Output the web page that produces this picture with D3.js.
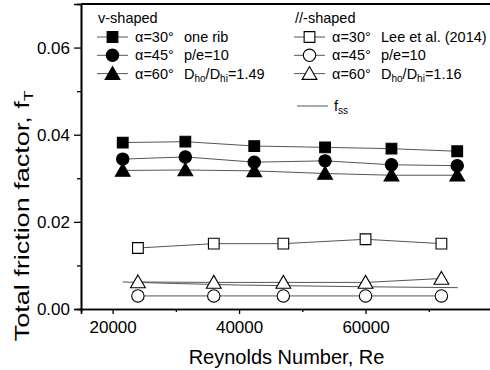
<!DOCTYPE html>
<html>
<head>
<meta charset="utf-8">
<script src="https://cdn.jsdelivr.net/npm/d3@7"></script>
<style>
  body { margin: 0; background: #fff; }
  svg { font-family: "Liberation Sans", Arial, sans-serif; }
</style>
</head>
<body>
<div id="chart"></div>
<script>
// v-shaped ribs (filled markers)
const reV = [21600, 31500, 42400, 53600, 64100, 74500];
const v30 = [0.0382, 0.0384, 0.0374, 0.0371, 0.0368, 0.0362];
const v45 = [0.0344, 0.0349, 0.0337, 0.0340, 0.0331, 0.0329];
const v60 = [0.0318, 0.0319, 0.0317, 0.0311, 0.0307, 0.0307];

// //-shaped ribs, Lee et al. (2014) (open markers)
const reP = [24000, 36000, 47000, 60000, 72000];
const p30 = [0.0140, 0.0150, 0.0150, 0.0160, 0.0150];
const p45 = [0.0030, 0.0030, 0.0030, 0.0030, 0.0030];
const p60 = [0.0062, 0.0061, 0.0061, 0.0061, 0.0070];

// smooth-channel friction factor
const reSS = [21600, 30000, 40000, 50000, 60000, 74600];
const fss = [0.0062, 0.00585, 0.0055, 0.0053, 0.0051, 0.0049];

const xTicks = [20000, 40000, 60000];
const xMinor = [30000, 50000, 70000];
const yTicks = [0, 0.02, 0.04, 0.06];
const yMinor = [0.01, 0.03, 0.05];

const W = 490, H = 370;
const mLeft = 81, mTop = 4, mBottom = 309, mRight = 492;

const svg = d3.select("#chart").append("svg")
  .attr("width", W).attr("height", H);
svg.append("rect").attr("width", W).attr("height", H).attr("fill", "#fff");

const x = d3.scaleLinear().domain([15000, 80000]).range([mLeft, mRight]);
const y = d3.scaleLinear().domain([0, 0.07]).range([mBottom, mTop]);

// frame
svg.append("line").attr("x1", mLeft).attr("x2", mRight).attr("y1", mTop).attr("y2", mTop)
  .attr("stroke", "#000").attr("stroke-width", 2);

// axes
const xAxis = svg.append("g").attr("transform", `translate(0,${mBottom})`)
  .call(d3.axisBottom(x).tickValues(xTicks).tickSize(5).tickPadding(7).tickFormat(d3.format("d")));
const xAxisMinor = svg.append("g").attr("transform", `translate(0,${mBottom})`)
  .call(d3.axisBottom(x).tickValues(xMinor).tickSize(3).tickFormat(""));
const yAxis = svg.append("g").attr("transform", `translate(${mLeft},0)`)
  .call(d3.axisLeft(y).tickValues(yTicks).tickSize(7).tickPadding(4).tickFormat(d3.format(".2f")));
const yAxisMinor = svg.append("g").attr("transform", `translate(${mLeft},0)`)
  .call(d3.axisLeft(y).tickValues(yMinor).tickSize(4).tickFormat(""));

[xAxis, xAxisMinor, yAxis, yAxisMinor].forEach(g => {
  g.select(".domain").attr("stroke", "#000").attr("stroke-width", 1.6);
  g.selectAll(".tick line").attr("stroke", "#000").attr("stroke-width", 1.3);
  g.selectAll("text").attr("font-size", 17).attr("fill", "#000")
    .attr("font-family", "Liberation Sans, Arial, sans-serif");
});

// axis titles
svg.append("text").attr("x", (mLeft + mRight) / 2).attr("y", 364)
  .attr("text-anchor", "middle").attr("font-size", 20).text("Reynolds Number, Re");

// y title is drawn stretched along its length, as in the source figure
const yt = svg.append("text").attr("transform", "translate(29,216) rotate(-90) scale(1.35,1)")
  .attr("text-anchor", "middle").attr("font-size", 20);
yt.append("tspan").text("Total friction factor, f");
yt.append("tspan").attr("font-size", 13).attr("dy", 4).text("T");

// markers
const sym = {
  square: d3.symbol().type(d3.symbolSquare).size(115),
  circle: d3.symbol().type(d3.symbolCircle).size(120),
  triangle: d3.symbol().type(d3.symbolTriangle).size(95)
};

const series = [
  { re: reV, f: v30, shape: "square", filled: true },
  { re: reV, f: v45, shape: "circle", filled: true },
  { re: reV, f: v60, shape: "triangle", filled: true },
  { re: reP, f: p30, shape: "square", filled: false },
  { re: reP, f: p60, shape: "triangle", filled: false },
  { re: reP, f: p45, shape: "circle", filled: false }
];

const line = d3.line().x(d => x(d[0])).y(d => y(d[1]));

// fss line
svg.append("path").datum(reSS.map((r, i) => [r, fss[i]]))
  .attr("d", d3.line().curve(d3.curveMonotoneX).x(d => x(d[0])).y(d => y(d[1])))
  .attr("fill", "none").attr("stroke", "#555").attr("stroke-width", 1);

series.forEach(s => {
  const pts = s.re.map((r, i) => [r, s.f[i]]);
  svg.append("path").datum(pts).attr("d", line)
    .attr("fill", "none").attr("stroke", "#555").attr("stroke-width", 1);
});
series.forEach(s => {
  const pts = s.re.map((r, i) => [r, s.f[i]]);
  const dy = s.shape === "triangle" ? 1.5 : 0;
  svg.append("g").selectAll("path").data(pts).join("path")
    .attr("transform", d => `translate(${x(d[0])},${y(d[1]) + dy})`)
    .attr("d", sym[s.shape])
    .attr("fill", s.filled ? "#000" : "#fff")
    .attr("stroke", "#000").attr("stroke-width", 1.1);
});

// legends
function legendBlock(x0, title, filled, rows) {
  const g = svg.append("g").attr("font-size", 14.5);
  g.append("text").attr("x", x0 + 1).attr("y", 23).text(title);
  rows.forEach((r, i) => {
    const yy = 37 + i * 18.3;
    g.append("line").attr("x1", x0).attr("x2", x0 + 31).attr("y1", yy).attr("y2", yy)
      .attr("stroke", "#555").attr("stroke-width", 1);
    const dy = r.shape === "triangle" ? 1.5 : 0;
    g.append("path").attr("transform", `translate(${x0 + 15.5},${yy + dy})`)
      .attr("d", sym[r.shape]).attr("fill", filled ? "#000" : "#fff")
      .attr("stroke", "#000").attr("stroke-width", 1.1);
    g.append("text").attr("x", x0 + 38).attr("y", yy + 5).text(r.a);
    const t = g.append("text").attr("x", x0 + 87).attr("y", yy + 5);
    r.b.forEach(p => {
      const ts = t.append("tspan").text(p[0]);
      if (p[1]) ts.attr("font-size", 10).attr("dy", 3);
      else if (p[2]) ts.attr("dy", -3);
    });
  });
}

legendBlock(97, "v-shaped", true, [
  { shape: "square", a: "α=30°", b: [["one rib"]] },
  { shape: "circle", a: "α=45°", b: [["p/e=10"]] },
  { shape: "triangle", a: "α=60°", b: [["D"], ["ho", true], ["/D", false, true], ["hi", true], ["=1.49", false, true]] }
]);
legendBlock(294, "//-shaped", false, [
  { shape: "square", a: "α=30°", b: [["Lee et al. (2014)"]] },
  { shape: "circle", a: "α=45°", b: [["p/e=10"]] },
  { shape: "triangle", a: "α=60°", b: [["D"], ["ho", true], ["/D", false, true], ["hi", true], ["=1.16", false, true]] }
]);

// fss legend entry
svg.append("line").attr("x1", 297).attr("x2", 328).attr("y1", 106).attr("y2", 106)
  .attr("stroke", "#555").attr("stroke-width", 1);
const fl = svg.append("text").attr("x", 334).attr("y", 111).attr("font-size", 14.5);
fl.append("tspan").text("f");
fl.append("tspan").attr("font-size", 10).attr("dy", 3).text("ss");
</script>
</body>
</html>
